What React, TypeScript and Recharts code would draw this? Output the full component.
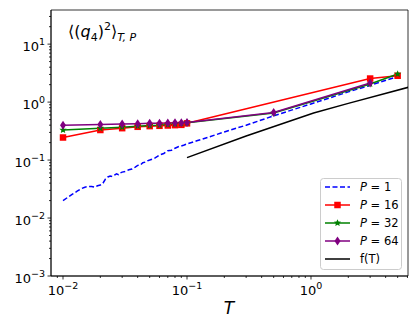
import { LineChart, Line, XAxis, YAxis, ReferenceArea } from 'recharts'

// P = 1 (dense, noisy at low T)
const tP1 = [0.01, 0.011, 0.012, 0.013, 0.014, 0.015, 0.016, 0.017, 0.018, 0.019, 0.02, 0.021, 0.022, 0.023, 0.024, 0.025, 0.026, 0.027, 0.028, 0.029, 0.03, 0.032, 0.034, 0.036, 0.038, 0.04, 0.042, 0.044, 0.046, 0.048, 0.05, 0.055, 0.06, 0.065, 0.07, 0.075, 0.08, 0.085, 0.09, 0.095, 0.1, 0.12, 0.15, 0.2, 0.3, 0.5, 1, 2, 3, 5]
const qP1 = [0.02, 0.023, 0.026, 0.029, 0.032, 0.034, 0.035, 0.035, 0.034, 0.036, 0.037, 0.04, 0.047, 0.051, 0.053, 0.052, 0.055, 0.058, 0.056, 0.06, 0.062, 0.064, 0.068, 0.07, 0.075, 0.081, 0.082, 0.09, 0.092, 0.097, 0.1, 0.108, 0.122, 0.13, 0.145, 0.148, 0.16, 0.17, 0.175, 0.182, 0.19, 0.215, 0.25, 0.305, 0.4, 0.58, 0.93, 1.5, 1.95, 2.75]

const tP16 = [0.01, 0.02, 0.03, 0.04, 0.05, 0.06, 0.07, 0.08, 0.09, 0.1, 3, 5]
const qP16 = [0.245, 0.33, 0.355, 0.375, 0.385, 0.39, 0.395, 0.4, 0.405, 0.43, 2.55, 2.85]

const tP32 = [0.01, 0.02, 0.03, 0.04, 0.05, 0.06, 0.07, 0.08, 0.09, 0.1, 0.5, 3, 5]
const qP32 = [0.33, 0.355, 0.37, 0.385, 0.395, 0.4, 0.41, 0.42, 0.43, 0.44, 0.65, 2.05, 3.05]

const tP64 = [0.01, 0.02, 0.03, 0.04, 0.05, 0.06, 0.07, 0.08, 0.09, 0.1, 0.5, 3]
const qP64 = [0.4, 0.41, 0.42, 0.425, 0.43, 0.43, 0.435, 0.44, 0.44, 0.445, 0.66, 2.13]

const tF = [0.1, 0.3, 1.05, 2, 6.1]
const qF = [0.11, 0.26, 0.65, 0.95, 1.8]

const X_MAJOR = [0.01, 0.1, 1]
const X_MINOR = [0.009, 0.02, 0.03, 0.04, 0.05, 0.06, 0.07, 0.08, 0.09, 0.2, 0.3, 0.4, 0.5, 0.6, 0.7, 0.8, 0.9, 2, 3, 4, 5, 6]
const Y_MAJOR = [0.001, 0.01, 0.1, 1, 10]
const Y_MINOR = [
  0.002, 0.003, 0.004, 0.005, 0.006, 0.007, 0.008, 0.009,
  0.02, 0.03, 0.04, 0.05, 0.06, 0.07, 0.08, 0.09,
  0.2, 0.3, 0.4, 0.5, 0.6, 0.7, 0.8, 0.9,
  2, 3, 4, 5, 6, 7, 8, 9, 20, 30,
]

const X_DOMAIN = [0.008, 6.06]
const Y_DOMAIN = [0.001, 38.8]

const FONT = '"DejaVu Sans", sans-serif'

const rows = (ts: number[], qs: number[]) => ts.map((T, i) => ({ T, q: qs[i] }))

const isMajor = (v: number) => {
  const l = Math.log10(v)
  return Math.abs(l - Math.round(l)) < 1e-6
}

const expText = (v: number) => {
  const e = Math.round(Math.log10(v))
  return e < 0 ? '\u2212' + Math.abs(e) : String(e)
}

const XTick = (props: any) => {
  const { x, y, payload } = props
  const major = isMajor(payload.value)
  return (
    <g>
      <line x1={x} x2={x} y1={y} y2={y + (major ? 3.5 : 2)} stroke="#000" strokeWidth={0.8} />
      {major && (
        <text x={x} y={y + 19} textAnchor="middle" fontSize={13} fontFamily={FONT} fill="#000">
          10<tspan fontSize={9.5} dy={-6}>{expText(payload.value)}</tspan>
        </text>
      )}
    </g>
  )
}

const YTick = (props: any) => {
  const { x, y, payload } = props
  const major = isMajor(payload.value)
  return (
    <g>
      <line x1={x - (major ? 3.5 : 2)} x2={x} y1={y} y2={y} stroke="#000" strokeWidth={0.8} />
      {major && (
        <text x={x - 6} y={y + 6.5} textAnchor="end" fontSize={13} fontFamily={FONT} fill="#000">
          10<tspan fontSize={9.5} dy={-6}>{expText(payload.value)}</tspan>
        </text>
      )}
    </g>
  )
}

const squareDot = (p: any) => (
  <rect key={`s-${p.index}`} x={p.cx - 3.25} y={p.cy - 3.25} width={6.5} height={6.5} fill="red" />
)

const starPath = (cx: number, cy: number, r: number) => {
  let d = ''
  for (let i = 0; i < 10; i++) {
    const rr = i % 2 === 0 ? r : r * 0.45
    const a = -Math.PI / 2 + (i * Math.PI) / 5
    d += (i === 0 ? 'M' : 'L') + (cx + rr * Math.cos(a)).toFixed(2) + ',' + (cy + rr * Math.sin(a)).toFixed(2)
  }
  return d + 'Z'
}

const starDot = (p: any) => <path key={`g-${p.index}`} d={starPath(p.cx, p.cy, 3.8)} fill="green" />

const diamondPath = (cx: number, cy: number) =>
  `M${cx},${cy - 4.5}L${cx + 3},${cy}L${cx},${cy + 4.5}L${cx - 3},${cy}Z`

const diamondDot = (p: any) => <path key={`p-${p.index}`} d={diamondPath(p.cx, p.cy)} fill="purple" />

const legendItems = [
  { label: '1', color: 'blue', dash: '5 2.5', marker: null },
  { label: '16', color: 'red', dash: undefined, marker: 'square' },
  { label: '32', color: 'green', dash: undefined, marker: 'star' },
  { label: '64', color: 'purple', dash: undefined, marker: 'diamond' },
  { label: 'f(T)', color: 'black', dash: undefined, marker: null },
]

function Overlay() {
  return (
    <svg width={419} height={327} style={{ position: 'absolute', left: 0, top: 0, pointerEvents: 'none' }}>
      {/* title */}
      <text x={68} y={37} fontSize={16} fontFamily={FONT} fill="#000">
        {'\u27E8('}
        <tspan fontStyle="italic">q</tspan>
        <tspan fontSize={11} dy={4}>4</tspan>
        <tspan dy={-4}>)</tspan>
        <tspan fontSize={11} dy={-7}>2</tspan>
        <tspan dy={7}>{'\u27E9'}</tspan>
        <tspan fontSize={11} dy={4} fontStyle="italic">T, P</tspan>
      </text>
      {/* x label */}
      <text x={229} y={314} textAnchor="middle" fontSize={17} fontStyle="italic" fontFamily={FONT} fill="#000">
        T
      </text>
      {/* legend */}
      <rect x={320.5} y={178.5} width={81} height={91} rx={3} fill="white" fillOpacity={0.8} stroke="#ccc" />
      {legendItems.map((it, i) => {
        const y = 187 + i * 18
        return (
          <g key={it.label}>
            <line x1={325} x2={350} y1={y} y2={y} stroke={it.color} strokeWidth={1.5} strokeDasharray={it.dash} />
            {it.marker === 'square' && <rect x={334.25} y={y - 3.25} width={6.5} height={6.5} fill="red" />}
            {it.marker === 'star' && <path d={starPath(337.5, y, 3.8)} fill="green" />}
            {it.marker === 'diamond' && <path d={diamondPath(337.5, y)} fill="purple" />}
            <text x={360} y={y + 4} fontSize={11.5} fontFamily={FONT} fill="#000">
              {it.label === 'f(T)' ? (
                'f(T)'
              ) : (
                <>
                  <tspan fontStyle="italic">P</tspan>
                  {' = ' + it.label}
                </>
              )}
            </text>
          </g>
        )
      })}
    </svg>
  )
}

export default function App() {
  return (
    <div style={{ position: 'absolute', left: 0, top: 0, width: 419, height: 327, background: '#fff' }}>
      <LineChart width={419} height={327} margin={{ top: 10, right: 11, bottom: 0, left: 0 }}>
        <XAxis
          dataKey="T"
          type="number"
          scale="log"
          domain={X_DOMAIN}
          allowDataOverflow
          ticks={[...X_MAJOR, ...X_MINOR]}
          interval={0}
          tick={<XTick />}
          tickLine={false}
          tickSize={0}
          tickMargin={0}
          height={51}
          axisLine={{ stroke: '#000', strokeWidth: 0.8 }}
        />
        <YAxis
          dataKey="q"
          type="number"
          scale="log"
          domain={Y_DOMAIN}
          allowDataOverflow
          ticks={[...Y_MAJOR, ...Y_MINOR]}
          interval={0}
          tick={<YTick />}
          tickLine={false}
          tickSize={0}
          tickMargin={0}
          width={51}
          axisLine={{ stroke: '#000', strokeWidth: 0.8 }}
        />
        <ReferenceArea
          x1={X_DOMAIN[0]}
          x2={X_DOMAIN[1]}
          y1={Y_DOMAIN[0]}
          y2={Y_DOMAIN[1]}
          fill="none"
          stroke="#000"
          strokeWidth={0.8}
          ifOverflow="extendDomain"
        />
        <Line data={rows(tP1, qP1)} dataKey="q" stroke="blue" strokeWidth={1.5} strokeDasharray="5 2.5" dot={false} isAnimationActive={false} />
        <Line data={rows(tP16, qP16)} dataKey="q" stroke="red" strokeWidth={1.5} dot={squareDot} isAnimationActive={false} />
        <Line data={rows(tP32, qP32)} dataKey="q" stroke="green" strokeWidth={1.5} dot={starDot} isAnimationActive={false} />
        <Line data={rows(tP64, qP64)} dataKey="q" stroke="purple" strokeWidth={1.5} dot={diamondDot} isAnimationActive={false} />
        <Line data={rows(tF, qF)} dataKey="q" stroke="black" strokeWidth={1.5} dot={false} isAnimationActive={false} />
      </LineChart>
      <Overlay />
    </div>
  )
}
